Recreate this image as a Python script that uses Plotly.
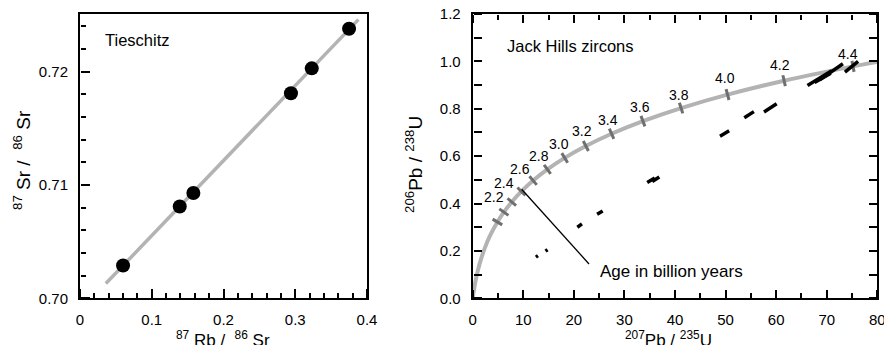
import numpy as np
import plotly.graph_objects as go

# ---------------- data ----------------
# Left panel: Tieschitz Rb-Sr isochron
rb_sr = [0.060, 0.139, 0.158, 0.294, 0.323, 0.375]
sr_sr = [0.7029, 0.7081, 0.7093, 0.7181, 0.7203, 0.7238]
fit_x = [0.036, 0.388]
fit_y = [0.7013, 0.7246]

# Right panel: concordia curve
conc_x = [0, 0.0199, 0.0505, 0.1035, 0.2792, 0.6363, 1.0931, 1.6774, 2.4248, 3.3809,
          4.887, 6.168, 7.729, 9.630, 11.944, 14.762, 18.193, 22.372, 27.460, 33.656,
          41.200, 50.387, 61.573, 75.194, 80.64]
conc_y = [0, 0.0031, 0.0078, 0.0156, 0.0395, 0.0807, 0.1234, 0.1678, 0.2140, 0.2620,
          0.3221, 0.3638, 0.4068, 0.4511, 0.4968, 0.5440, 0.5926, 0.6428, 0.6946, 0.7479,
          0.8030, 0.8598, 0.9184, 0.9789, 1.0005]

# Age marks on the concordia (billion years)
ages = [1.8, 2.0, 2.2, 2.4, 2.6, 2.8, 3.0, 3.2, 3.4, 3.6, 3.8, 4.0, 4.2, 4.4]
age_x = [4.887, 6.168, 7.729, 9.630, 11.944, 14.762, 18.193, 22.372, 27.460, 33.656,
         41.200, 50.387, 61.573, 75.194]
age_y = [0.3221, 0.3638, 0.4068, 0.4511, 0.4968, 0.5440, 0.5926, 0.6428, 0.6946, 0.7479,
         0.8030, 0.8598, 0.9184, 0.9789]
age_labels = ["", "", "2.2", "2.4", "2.6", "2.8", "3.0", "3.2", "3.4", "3.6", "3.8",
              "4.0", "4.2", "4.4"]

# Jack Hills zircon analyses (short segments: start -> end)
zr_x0 = [12.5, 14.4, 20.7, 24.6, 34.5, 35.5, 48.9, 53.7, 57.6, 66.2, 67.6, 68.6, 73.6]
zr_y0 = [0.174, 0.199, 0.300, 0.355, 0.489, 0.493, 0.684, 0.762, 0.786, 0.898, 0.911, 0.922, 0.955]
zr_x1 = [12.9, 14.8, 21.6, 25.7, 36.0, 36.9, 50.7, 55.6, 60.1, 71.0, 70.8, 73.2, 76.2]
zr_y1 = [0.180, 0.205, 0.314, 0.369, 0.508, 0.512, 0.707, 0.788, 0.821, 0.961, 0.950, 0.990, 1.000]

callout_x = [9.68, 23.0]
callout_y = [0.4605, 0.145]

# ---------------- geometry ----------------
# page body keeps its default 8px margin, so the figure is 876x337 placed at (8, 8)
OFF = 8
W, H = 892 - 2 * OFF, 353 - 2 * OFF
def px(x):
    return (x - OFF) / W
def py(y):
    return 1 - (y - OFF) / H

dom_left_x = [px(80), px(367)]
dom_right_x = [px(472.7), px(877.3)]
dom_y = [py(298.3), py(14)]

FONT = "Liberation Sans, Arial, sans-serif"
GRAY = "#b3b3b3"

fig = go.Figure()

fig.add_trace(go.Scatter(x=fit_x, y=fit_y, mode="lines",
                         line=dict(color=GRAY, width=3.5),
                         xaxis="x", yaxis="y", showlegend=False, hoverinfo="skip"))
fig.add_trace(go.Scatter(x=rb_sr, y=sr_sr, mode="markers",
                         marker=dict(color="black", size=14),
                         xaxis="x", yaxis="y", showlegend=False))

fig.add_trace(go.Scatter(x=conc_x, y=conc_y, mode="lines",
                         line=dict(color=GRAY, width=4, shape="spline", smoothing=0.6),
                         xaxis="x2", yaxis="y2", showlegend=False, hoverinfo="skip"))

# age tick marks perpendicular to the curve
lam235, lam238 = 0.98485, 0.155125
sxp = (877.3 - 472.7) / 80.0
syp = (298.3 - 14) / 1.2
angles = []
for t in ages:
    dx = lam235 * np.exp(lam235 * t) * sxp
    dy = lam238 * np.exp(lam238 * t) * syp
    angles.append(-float(np.degrees(np.arctan2(dy, dx))))
fig.add_trace(go.Scatter(x=age_x, y=age_y, mode="markers",
                         marker=dict(symbol="line-ns", size=8, angle=angles,
                                     line=dict(color="#6f6f6f", width=3)),
                         xaxis="x2", yaxis="y2", showlegend=False))

seg_x, seg_y = [], []
for a, b, c, d in zip(zr_x0, zr_y0, zr_x1, zr_y1):
    seg_x += [a, c, None]
    seg_y += [b, d, None]
fig.add_trace(go.Scatter(x=seg_x, y=seg_y, mode="lines",
                         line=dict(color="black", width=3.5),
                         xaxis="x2", yaxis="y2", showlegend=False))
fig.add_trace(go.Scatter(x=callout_x, y=callout_y, mode="lines",
                         line=dict(color="black", width=1.3),
                         xaxis="x2", yaxis="y2", showlegend=False, hoverinfo="skip"))

# empty traces that register the tick-only axes (ticks pointing into the plots)
tick_pairs = [("x3", "y"), ("x4", "y"), ("x", "y3"), ("x", "y4"),
              ("x5", "y2"), ("x6", "y2"), ("x7", "y2"), ("x8", "y2"),
              ("x2", "y5"), ("x2", "y6")]
for xa, ya in tick_pairs:
    fig.add_trace(go.Scatter(x=[None], y=[None], mode="markers", xaxis=xa, yaxis=ya,
                             showlegend=False, hoverinfo="skip"))

tickfont = dict(family=FONT, size=15, color="black")
main = dict(showgrid=False, zeroline=False, showline=True, linecolor="black", linewidth=2,
            mirror=True, ticks="", tickfont=tickfont, ticklabelstandoff=7,
            automargin=False, ticklabeloverflow="allow")

def tick_axis(overlay, side, pos, rng, dtick, tick0, ln):
    return dict(overlaying=overlay, side=side, anchor="free", position=pos,
                range=rng, dtick=dtick, tick0=tick0, ticks="outside", ticklen=ln,
                tickwidth=2, tickcolor="black", showticklabels=False,
                showgrid=False, zeroline=False, showline=False, automargin=False)

XL, YL = [0, 0.4], [0.70, 0.7251]
XR, YR = [0, 80], [0, 1.2]

fig.update_layout(
    width=W, height=H, autosize=False,
    margin=dict(l=0, r=0, t=0, b=0, pad=0, autoexpand=False),
    paper_bgcolor="white", plot_bgcolor="white",
    font=dict(family=FONT, color="black"),
    xaxis=dict(domain=dom_left_x, anchor="y", range=XL, dtick=0.1, tick0=0, **main),
    yaxis=dict(domain=dom_y, anchor="x", range=YL, dtick=0.01, tick0=0.70,
               tickformat=".2f", **main),
    xaxis2=dict(domain=dom_right_x, anchor="y2", range=XR, dtick=10, tick0=0, **main),
    yaxis2=dict(domain=dom_y, anchor="x2", range=YR, dtick=0.2, tick0=0,
                tickformat=".1f", **main),
    # left panel: bottom and left ticks
    xaxis3=tick_axis("x", "top", dom_y[0], XL, 0.02, 0, 5),
    xaxis4=tick_axis("x", "top", dom_y[0], XL, 0.1, 0, 9),
    yaxis3=tick_axis("y", "right", dom_left_x[0], YL, 0.002, 0.70, 5),
    yaxis4=tick_axis("y", "right", dom_left_x[0], YL, 0.01, 0.70, 9),
    # right panel: ticks on all four sides
    xaxis5=tick_axis("x2", "top", dom_y[0], XR, 5, 0, 5),
    xaxis6=tick_axis("x2", "top", dom_y[0], XR, 10, 0, 8),
    xaxis7=tick_axis("x2", "bottom", dom_y[1], XR, 5, 0, 5),
    xaxis8=tick_axis("x2", "bottom", dom_y[1], XR, 10, 0, 8),
    yaxis5=tick_axis("y2", "right", dom_right_x[0], YR, 0.1, 0, 8),
    yaxis6=tick_axis("y2", "left", dom_right_x[1], YR, 0.1, 0, 8),
)

ann = []
titlefont = dict(family=FONT, size=17, color="black")
ann.append(dict(text="<sup>87</sup> Rb /  <sup>86</sup> Sr", xref="paper", yref="paper",
                x=px(223), y=0, yshift=-7, showarrow=False, font=titlefont,
                xanchor="center", yanchor="bottom"))
ann.append(dict(text="<sup>87</sup> Sr /  <sup>86</sup> Sr", xref="paper", yref="paper",
                x=px(22), y=py(160), showarrow=False, font=dict(family=FONT, size=19),
                textangle=-90, xanchor="center", yanchor="middle"))
ann.append(dict(text="<sup>207</sup>Pb / <sup>235</sup>U", xref="paper", yref="paper",
                x=px(668), y=0, yshift=-7, showarrow=False, font=titlefont,
                xanchor="center", yanchor="bottom"))
ann.append(dict(text="<sup>206</sup>Pb / <sup>238</sup>U", xref="paper", yref="paper",
                x=px(414), y=py(165), showarrow=False, font=dict(family=FONT, size=19),
                textangle=-90, xanchor="center", yanchor="middle"))
ann.append(dict(text="Tieschitz", xref="x", yref="y", x=0.032, y=0.7228,
                showarrow=False, font=dict(family=FONT, size=16.5),
                xanchor="left", yanchor="middle"))
ann.append(dict(text="Jack Hills zircons", xref="x2", yref="y2", x=6.4, y=1.063,
                showarrow=False, font=dict(family=FONT, size=16.5),
                xanchor="left", yanchor="middle"))
ann.append(dict(text="Age in billion years", xref="x2", yref="y2", x=24.8, y=0.115,
                showarrow=False, font=dict(family=FONT, size=17),
                xanchor="left", yanchor="middle"))

label_dx = [0, 0, -18, -17, -13, -8, -6, -4, -4, -3, -2, -3, -4, -5]
label_dy = [0, 0, -5, -8, -12, -13, -14, -15, -14, -14, -13, -17, -16, -12]
for lx, ly, lab, ddx, ddy in zip(age_x, age_y, age_labels, label_dx, label_dy):
    if not lab:
        continue
    ann.append(dict(text=lab, xref="x2", yref="y2", x=lx, y=ly, showarrow=False,
                    font=dict(family=FONT, size=14), xanchor="center", yanchor="middle",
                    xshift=ddx, yshift=-ddy))
fig.update_layout(annotations=ann)

fig.write_html("out.html", config={"displayModeBar": False})
